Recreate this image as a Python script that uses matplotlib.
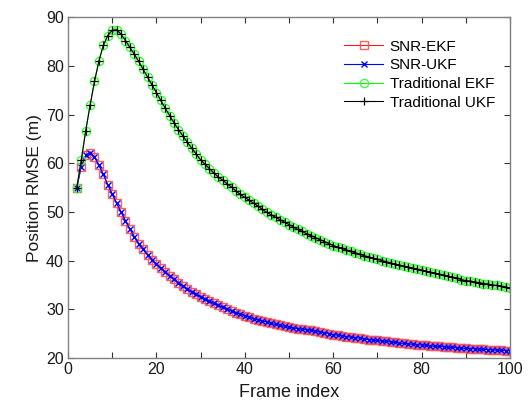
import matplotlib
matplotlib.use("Agg")
import matplotlib.pyplot as plt
import numpy as np

plt.rcParams['font.family'] = ['Liberation Sans', 'DejaVu Sans']

frames = list(range(2, 101))

traditional = [
    55.0, 60.6, 66.6, 71.9, 76.8, 81.0, 84.2, 86.2, 87.3,
    87.4, 86.5, 85.2, 83.8, 82.4, 80.9, 79.3, 77.7, 76.1, 74.5,
    72.9, 71.3, 69.8, 68.3, 66.9, 65.6, 64.3, 63.1, 61.9, 60.7,
    59.8, 58.9, 58.0, 57.2, 56.5, 55.8, 55.1, 54.3, 53.6, 53.0,
    52.4, 51.8, 51.2, 50.5, 49.9, 49.4, 48.9, 48.4, 47.9, 47.4,
    46.9, 46.4, 46.0, 45.5, 45.1, 44.7, 44.3, 43.9, 43.5, 43.1,
    42.8, 42.5, 42.2, 41.9, 41.6, 41.3, 41.0, 40.8, 40.5, 40.3,
    40.0, 39.8, 39.5, 39.3, 39.1, 38.8, 38.6, 38.4, 38.2, 38.0,
    37.8, 37.6, 37.4, 37.2, 37.0, 36.8, 36.6, 36.4, 36.1, 35.9,
    35.8, 35.6, 35.5, 35.3, 35.2, 35.0, 34.9, 34.7, 34.5, 34.4,
]

snr = [
    55.0, 59.3, 61.6, 62.2, 61.3, 59.6, 57.7, 55.6, 53.7,
    51.8, 50.0, 48.2, 46.5, 44.9, 43.5, 42.3, 41.2, 40.2, 39.3,
    38.4, 37.6, 36.9, 36.2, 35.5, 34.8, 34.2, 33.6, 33.1, 32.6,
    32.1, 31.7, 31.2, 30.8, 30.4, 30.0, 29.7, 29.3, 29.0, 28.7,
    28.4, 28.1, 27.9, 27.6, 27.4, 27.1, 26.9, 26.7, 26.5, 26.3,
    26.2, 26.0, 25.9, 25.8, 25.7, 25.5, 25.3, 25.2, 25.0, 24.8,
    24.7, 24.6, 24.4, 24.3, 24.2, 24.1, 23.9, 23.8, 23.7, 23.6,
    23.5, 23.4, 23.3, 23.2, 23.1, 23.0, 22.9, 22.8, 22.7, 22.7,
    22.6, 22.5, 22.4, 22.4, 22.3, 22.2, 22.2, 22.1, 22.0, 22.0,
    21.9, 21.9, 21.8, 21.8, 21.7, 21.7, 21.6, 21.6, 21.5, 21.5,
]

snr_ekf = snr
snr_ukf = snr
trad_ekf = traditional
trad_ukf = traditional

labels = ['SNR-EKF', 'SNR-UKF', 'Traditional EKF', 'Traditional UKF']
xticks = list(range(0, 101, 10))
yticks = [20, 30, 40, 50, 60, 70, 80, 90]

fig = plt.figure(figsize=(5.29, 4.08), dpi=100)
ax = fig.add_axes([0.1285, 0.1225, 0.8355, 0.8355])

ax.plot(frames, snr_ekf, color='#ff0000', lw=0.8, marker='s', ms=6,
        mfc='none', mec='#ff5050', mew=1.0, alpha=0.9, label=labels[0])
ax.plot(frames, snr_ukf, color='#0000ff', lw=0.8, marker='x', ms=4,
        mec='#0000ff', mew=1.0, label=labels[1])
ax.plot(frames, trad_ekf, color='#00ff00', lw=0.8, marker='o', ms=6,
        mfc='none', mec='#40ff40', mew=1.0, label=labels[2])
ax.plot(frames, trad_ukf, color='#000000', lw=0.8, marker='+', ms=6,
        mec='#000000', mew=0.9, label=labels[3])

ax.set_xlim(0, 100)
ax.set_ylim(20, 90)
ax.set_xticks(xticks)
ax.set_xticklabels([str(v) if v % 20 == 0 else '' for v in xticks])
ax.set_yticks(yticks)
ax.tick_params(direction='in', top=True, right=True, length=4, width=0.8,
               labelsize=11.5, colors='#333333', labelcolor='#1a1a1a', pad=3)
for s in ax.spines.values():
    s.set_color('#808080')
    s.set_linewidth(1.0)

ax.set_xlabel('Frame index', fontsize=13, color='#1a1a1a', labelpad=5)
ax.set_ylabel('Position RMSE (m)', fontsize=12.5, color='#1a1a1a', labelpad=3)

leg = ax.legend(loc='upper right', bbox_to_anchor=(0.99, 0.965), frameon=False,
                fontsize=11, handlelength=2.6, handletextpad=0.4,
                labelspacing=0.3, borderaxespad=0.3)

fig.savefig('out.png', dpi=100)
